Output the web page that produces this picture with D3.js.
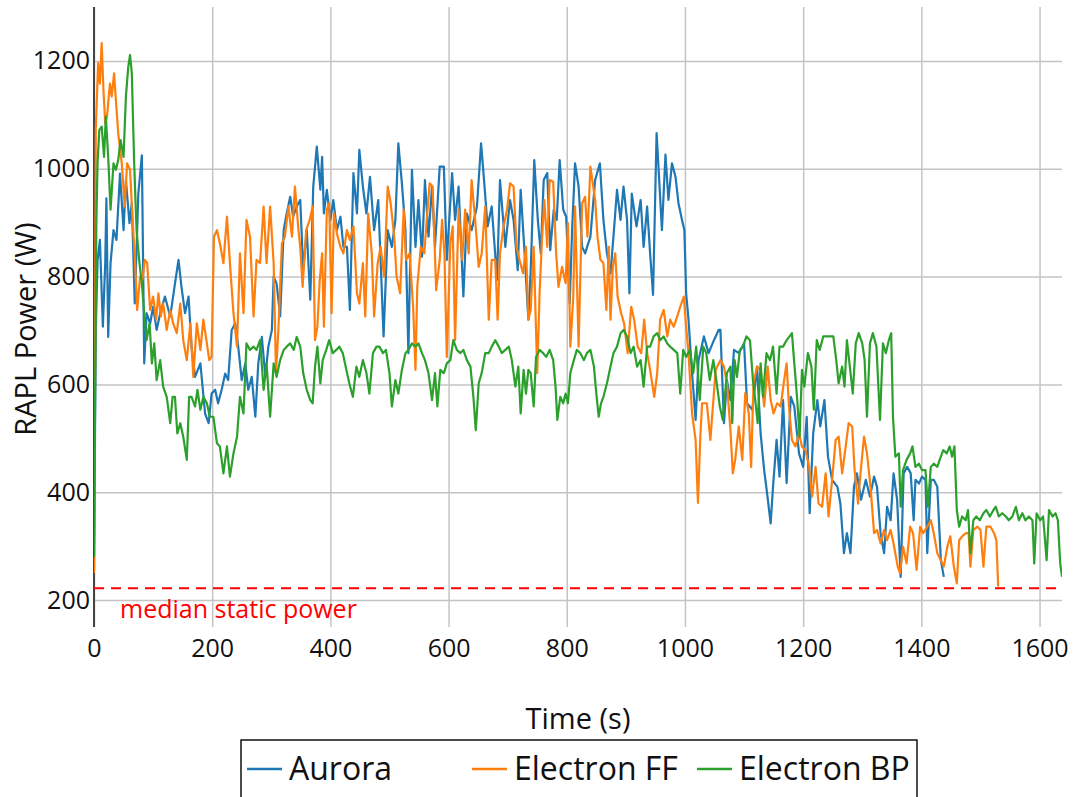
<!DOCTYPE html>
<html>
<head>
<meta charset="utf-8">
<script src="https://cdn.jsdelivr.net/npm/d3@7"></script>
<style>
  body { margin: 0; background: #fff; }
  text { font-family: "Open Sans", "Noto Sans", sans-serif; }
</style>
</head>
<body>
<svg id="chart"></svg>
<script>

// series names / colours (legend order)
var seriesNames = ['Aurora', 'Electron FF', 'Electron BP'];
var seriesColors = ['#1f77b4', '#ff7f0e', '#2ca02c'];

// [time (s), RAPL power (W)]
var aurora = [[0,255],[3,700],[6,830],[10,868],[15,707],[19,825],[21,945],[24,688],[28,825],[33,886],[38,868],[44,991],[50,886],[54,979],[60,899],[64,936],[69,750],[75,954],[81,1025],[85,639],[89,732],[95,713],[100,744],[106,701],[112,732],[120,763],[129,726],[137,787],[143,831],[148,781],[154,732],[160,763],[165,670],[171,614],[180,639],[188,546],[194,528],[199,583],[205,590],[210,565],[216,590],[222,620],[227,608],[233,701],[239,713],[244,670],[250,608],[256,639],[261,590],[267,614],[273,540],[278,639],[284,688],[290,614],[295,670],[301,701],[304,800],[309,787],[315,726],[321,886],[326,917],[332,948],[337,911],[343,930],
  [349,942],[354,812],[360,886],[366,757],[371,967],[377,1041],[383,961],[386,1022],[389,917],[394,961],[400,905],[405,942],[411,886],[417,911],[422,855],[428,855],[433,738],[439,992],[445,917],[449,1035],[455,967],[461,917],[467,985],[474,886],[481,942],[490,689],[497,886],[504,855],[510,905],[515,1047],[521,973],[527,886],[532,658],[538,998],[544,855],[549,942],[555,837],[560,979],[566,874],[572,967],[577,855],[585,1004],[592,1004],[597,831],[606,992],[611,905],[617,967],[625,763],[631,917],[639,886],[648,930],[655,1047],[660,979],[666,893],[673,930],[682,794],[687,979],[696,855],
  [704,942],[710,905],[717,812],[722,961],[728,855],[735,720],[739,812],[745,1016],[751,905],[756,843],[761,979],[767,992],[772,849],[778,924],[783,905],[788,1016],[794,924],[799,911],[805,750],[809,886],[814,1010],[820,967],[826,855],[831,843],[840,874],[848,979],[856,1010],[862,905],[868,843],[874,806],[879,874],[885,961],[891,905],[896,967],[902,905],[906,769],[910,954],[918,893],[925,942],[930,855],[936,930],[941,843],[946,766],[952,1066],[957,967],[961,886],[967,1026],[972,942],[978,1010],[984,985],[989,936],[995,905],[999,886],[1002,769],[1006,720],[1012,621],[1018,534],[1023,645],[1032,689],[1040,658],[1049,682],[1057,701],
  [1060,701],[1066,528],[1071,608],[1077,571],[1083,664],[1091,658],[1100,676],[1105,565],[1114,553],[1122,633],[1128,509],[1134,441],[1139,398],[1145,342],[1149,410],[1155,497],[1160,429],[1166,571],[1172,417],[1179,577],[1185,559],[1193,472],[1200,447],[1206,540],[1211,361],[1217,509],[1224,571],[1229,522],[1236,571],[1242,466],[1249,423],[1258,410],[1263,379],[1269,287],[1274,324],[1280,287],[1286,410],[1291,435],[1298,386],[1306,423],[1313,392],[1320,429],[1325,410],[1331,324],[1337,287],[1342,373],[1348,348],[1353,435],[1359,386],[1365,243],[1370,435],[1376,447],[1382,435],[1387,348],[1390,423],[1396,416],[1401,429],[1407,423],[1410,287],[1416,423],[1421,423],[1427,410],[1433,274],[1438,243]];

var electronFF = [[0,250],[2,700],[3,1072],[7,1196],[10,1158],[13,1233],[16,1146],[19,1084],[22,1097],[27,1158],[30,1134],[34,1177],[37,1128],[41,1066],[47,1010],[52,930],[56,1010],[61,998],[65,911],[69,837],[73,738],[78,800],[82,794],[86,831],[90,825],[95,738],[100,763],[105,720],[109,769],[113,726],[117,750],[123,701],[129,738],[134,713],[140,695],[146,750],[151,682],[157,645],[163,713],[168,614],[174,713],[180,664],[185,720],[191,676],[195,645],[199,651],[203,874],[208,886],[213,862],[219,825],[225,911],[230,825],[236,732],[242,670],[247,843],[253,732],[258,905],[264,874],[270,726],[275,831],[281,825],[287,930],[292,825],[298,930],[304,825],[308,620],[312,701],[318,862],[323,874],[329,930],[335,874],[340,967],[346,886],
  [349,855],[353,781],[359,886],[365,905],[370,930],[374,682],[378,707],[382,794],[386,843],[389,707],[394,924],[398,936],[402,732],[406,917],[411,880],[417,855],[422,843],[428,886],[433,868],[439,893],[445,769],[449,750],[455,825],[459,726],[464,917],[470,843],[474,726],[480,825],[485,855],[491,800],[497,967],[502,936],[508,874],[512,800],[518,769],[524,924],[528,831],[534,843],[540,744],[544,627],[547,781],[553,855],[559,843],[563,905],[568,973],[573,967],[579,775],[585,831],[589,905],[593,843],[597,651],[603,862],[607,893],[611,682],[617,924],[623,831],[628,924],[634,843],[639,979],[645,905],[651,818],[656,843],[662,930],[668,720],[673,831],[679,831],[683,720],[687,843],[693,893],[699,924],
  [704,973],[710,967],[715,855],[720,831],[726,806],[731,855],[735,720],[739,738],[744,855],[750,621],[754,769],[758,868],[762,942],[767,855],[771,979],[777,976],[782,843],[786,781],[792,818],[798,788],[802,899],[806,670],[811,763],[814,930],[820,670],[826,936],[831,948],[835,874],[840,1004],[844,973],[848,942],[852,874],[857,831],[862,825],[867,738],[871,855],[874,720],[878,818],[882,843],[886,763],[892,732],[897,713],[903,658],[909,744],[914,720],[920,670],[926,658],[931,720],[936,658],[941,627],[948,577],[953,621],[958,720],[964,738],[970,689],[975,720],[981,707],[987,726],[992,744],[998,763],[1002,707],[1006,658],[1012,546],[1018,497],[1022,380],[1026,503],[1029,565],[1037,565],[1043,497],[1052,627],
  [1060,645],[1066,633],[1071,602],[1077,515],[1081,435],[1085,460],[1091,522],[1097,460],[1102,584],[1108,546],[1112,447],[1116,602],[1122,633],[1128,627],[1134,559],[1140,633],[1145,571],[1150,546],[1156,565],[1162,559],[1167,602],[1172,639],[1176,559],[1181,497],[1187,485],[1193,509],[1198,485],[1204,478],[1210,447],[1215,392],[1221,447],[1226,379],[1232,373],[1238,435],[1243,355],[1249,423],[1255,497],[1260,503],[1266,435],[1272,485],[1277,528],[1283,522],[1287,441],[1293,379],[1297,435],[1303,503],[1308,472],[1314,410],[1320,324],[1325,330],[1331,305],[1337,330],[1342,311],[1348,330],[1353,305],[1360,262],[1364,250],[1369,299],[1375,268],[1381,336],[1386,324],[1392,256],[1398,336],[1403,324],[1410,336],[1416,348],[1421,324],[1427,287],[1433,274],[1438,262],[1444,299],[1449,318],[1455,262],[1460,231],[1464,311],[1469,318],[1475,324],[1480,324],[1483,262],[1488,330],[1495,336],[1500,330],[1505,262],[1510,336],[1517,336],[1523,324],[1527,311],[1530,225]];

var electronBP = [[0,280],[2,600],[4,900],[6,1010],[9,1072],[13,1078],[17,1022],[20,1097],[24,1022],[28,924],[33,1010],[37,998],[41,1016],[45,1053],[50,1022],[54,1134],[58,1189],[61,1211],[64,1177],[68,1010],[72,886],[77,825],[81,787],[85,732],[89,682],[94,713],[98,639],[102,676],[106,608],[112,645],[117,596],[123,577],[129,528],[133,577],[137,577],[141,509],[146,528],[151,503],[157,460],[161,577],[165,577],[171,559],[175,590],[180,553],[185,577],[191,565],[196,540],[202,540],[208,491],[213,485],[219,435],[225,485],[230,429],[236,472],[242,503],[247,577],[253,546],[258,676],[264,664],[270,670],[275,664],[281,682],[287,590],[292,639],[298,540],[304,639],[309,614],[315,645],[321,664],[326,670],[332,676],[338,664],[343,688],
  [349,670],[354,621],[360,590],[366,571],[370,565],[374,633],[378,670],[383,602],[387,645],[393,664],[398,682],[404,658],[410,664],[415,670],[421,658],[427,627],[432,602],[438,577],[444,633],[449,614],[455,645],[461,621],[466,583],[472,658],[478,670],[483,670],[489,658],[494,664],[500,621],[504,559],[510,608],[515,583],[521,627],[527,658],[532,664],[538,676],[544,670],[549,676],[555,658],[560,645],[566,621],[572,571],[577,621],[581,559],[586,627],[592,621],[597,639],[603,645],[608,682],[614,664],[620,658],[625,664],[631,645],[637,633],[642,577],[646,515],[651,602],[656,621],[662,658],[668,658],[673,670],[679,682],[685,670],[690,658],[696,664],[702,670],
  [707,645],[713,596],[718,633],[722,546],[727,627],[731,583],[735,627],[739,621],[744,559],[748,651],[754,664],[760,658],[765,651],[771,664],[777,645],[781,596],[784,534],[789,577],[794,565],[798,583],[802,565],[806,621],[812,645],[817,664],[823,658],[829,645],[834,658],[840,664],[846,633],[850,583],[854,540],[858,565],[862,577],[868,602],[874,633],[879,658],[885,670],[891,695],[896,701],[902,689],[908,658],[913,670],[919,633],[925,645],[930,596],[936,670],[941,670],[947,689],[953,695],[958,682],[964,689],[970,676],[975,670],[981,664],[987,658],[992,583],[997,664],[1002,651],[1008,664],[1014,621],[1019,670],[1025,571],[1031,670],[1036,658],[1042,608],[1048,645],[1053,608],[1059,559],[1064,534],
  [1071,621],[1077,633],[1080,528],[1084,645],[1088,614],[1093,664],[1098,670],[1104,689],[1110,682],[1115,608],[1119,571],[1123,528],[1128,639],[1132,577],[1138,658],[1144,645],[1149,670],[1155,583],[1160,670],[1166,670],[1172,682],[1177,689],[1181,695],[1185,639],[1190,571],[1194,503],[1198,627],[1202,596],[1208,658],[1214,633],[1218,553],[1223,682],[1228,664],[1234,689],[1239,689],[1245,689],[1251,689],[1256,645],[1260,602],[1266,633],[1270,596],[1274,682],[1279,633],[1284,583],[1289,676],[1294,695],[1300,676],[1304,645],[1308,540],[1313,676],[1318,695],[1324,670],[1330,534],[1335,676],[1340,658],[1345,682],[1349,695],[1352,540],[1356,466],[1362,472],[1365,373],[1369,441],[1375,460],[1381,472],[1385,485],[1390,447],[1396,453],[1401,441],[1407,441],[1411,373],[1416,447],[1421,453],[1427,447],[1431,460],[1437,478],[1443,472],[1448,485],[1452,466],[1456,485],
  [1460,367],[1464,336],[1469,355],[1475,348],[1479,367],[1483,287],[1488,348],[1493,355],[1499,348],[1505,361],[1510,367],[1516,355],[1522,367],[1526,373],[1531,355],[1537,361],[1543,355],[1548,348],[1554,355],[1560,373],[1565,348],[1571,361],[1576,348],[1582,355],[1588,348],[1591,268],[1595,361],[1601,348],[1606,355],[1612,274],[1616,367],[1622,355],[1627,361],[1631,348],[1635,268],[1638,243]];

var xTicks = [0, 200, 400, 600, 800, 1000, 1200, 1400, 1600];
var yTicks = [200, 400, 600, 800, 1000, 1200];
var staticPower = 222; // median static power (W)
var staticLabel = 'median static power';
var xLabel = 'Time (s)';
var yLabel = 'RAPL Power (W)';

var width = 1073, height = 797;
var plotLeft = 94, plotRight = 1062, plotTop = 7, plotBottom = 627;

var svg = d3.select('#chart')
    .attr('width', width)
    .attr('height', height)
    .style('display', 'block');

svg.append('rect').attr('width', width).attr('height', height).attr('fill', '#fff');

var allSeries = [aurora, electronFF, electronBP];

var xScale = d3.scaleLinear()
    .domain([0, d3.max(electronBP, d => d[0])])
    .range([plotLeft, plotRight]);

var yScale = d3.scaleLinear()
    .domain([150, 1300])
    .range([plotBottom, plotTop]);

// gridlines via axes
var xGrid = svg.append('g')
    .attr('transform', `translate(0,${plotBottom})`)
    .call(d3.axisBottom(xScale).tickValues(xTicks).tickSize(-(plotBottom - plotTop)).tickFormat(''));
xGrid.select('.domain').remove();
xGrid.selectAll('line').attr('stroke', '#c4c4c4').attr('stroke-width', 1.5);

var yGrid = svg.append('g')
    .attr('transform', `translate(${plotLeft},0)`)
    .call(d3.axisLeft(yScale).tickValues(yTicks).tickSize(-(plotRight - plotLeft)).tickFormat(''));
yGrid.select('.domain').remove();
yGrid.selectAll('line').attr('stroke', '#c4c4c4').attr('stroke-width', 1.5);

// tick labels
var xAxisG = svg.append('g')
    .attr('transform', `translate(0,${plotBottom})`)
    .call(d3.axisBottom(xScale).tickValues(xTicks).tickSize(0).tickPadding(12).tickFormat(d => d));
xAxisG.select('.domain').remove();
xAxisG.selectAll('text').style('font-size', '25px').attr('fill', '#111').attr('font-family', '"Open Sans", sans-serif');

var yAxisG = svg.append('g')
    .attr('transform', `translate(${plotLeft},0)`)
    .call(d3.axisLeft(yScale).tickValues(yTicks).tickSize(0).tickPadding(4).tickFormat(d => d));
yAxisG.select('.domain').remove();
yAxisG.selectAll('text').style('font-size', '25px').attr('fill', '#111').attr('font-family', '"Open Sans", sans-serif');

// left axis line
svg.append('line')
    .attr('x1', plotLeft).attr('x2', plotLeft)
    .attr('y1', plotTop).attr('y2', plotBottom)
    .attr('stroke', '#444').attr('stroke-width', 2);

// clip
svg.append('clipPath').attr('id', 'clipBox')
    .append('rect')
    .attr('x', plotLeft).attr('y', plotTop)
    .attr('width', plotRight - plotLeft).attr('height', plotBottom - plotTop);

// median static power
svg.append('line')
    .attr('x1', plotLeft).attr('x2', plotRight)
    .attr('y1', yScale(staticPower)).attr('y2', yScale(staticPower))
    .attr('stroke', '#ff0000').attr('stroke-width', 2)
    .attr('stroke-dasharray', '10,7');

svg.append('text')
    .attr('x', 120).attr('y', 618)
    .attr('fill', '#ff0000')
    .style('font-size', '25px')
    .text(staticLabel);

// traces
var dataLine = d3.line()
    .x(d => xScale(d[0]))
    .y(d => yScale(d[1]));

allSeries.forEach(function(s, i){
    svg.append('path')
        .attr('fill', 'none')
        .attr('stroke', seriesColors[i])
        .attr('stroke-width', 2.2)
        .attr('stroke-linejoin', 'round')
        .attr('d', dataLine(s))
        .attr('clip-path', 'url(#clipBox)');
});

// axis titles
svg.append('text')
    .attr('x', 578).attr('y', 729)
    .attr('text-anchor', 'middle')
    .style('font-size', '29px')
    .attr('fill', '#111')
    .text(xLabel);

svg.append('text')
    .attr('transform', `translate(36, ${(plotTop + plotBottom) / 2 + 12}) rotate(-90)`)
    .attr('text-anchor', 'middle')
    .style('font-size', '29px')
    .attr('fill', '#111')
    .text(yLabel);

// legend
var legendG = svg.append('g').attr('transform', 'translate(241,740)');
legendG.append('rect')
    .attr('x', 0).attr('y', 0)
    .attr('width', 676).attr('height', 70)
    .attr('fill', '#fff')
    .attr('stroke', '#111').attr('stroke-width', 1.5);

seriesNames.forEach(function(name, i){
    var gx = 6 + i * 225;
    legendG.append('line')
        .attr('x1', gx).attr('x2', gx + 35)
        .attr('y1', 29).attr('y2', 29)
        .attr('stroke', seriesColors[i]).attr('stroke-width', 2.5);
    legendG.append('text')
        .attr('x', gx + 42).attr('y', 40)
        .style('font-size', '32px')
        .attr('fill', '#111')
        .text(name);
});

</script>
</body>
</html>
